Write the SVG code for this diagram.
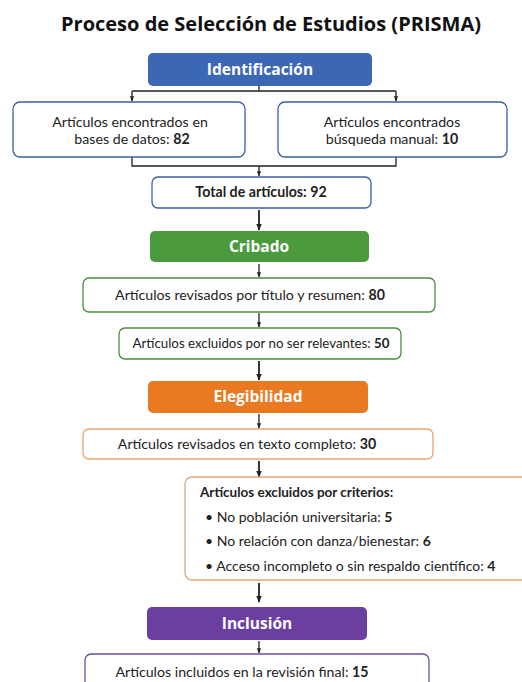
<svg xmlns="http://www.w3.org/2000/svg" width="522" height="682" viewBox="0 0 522 682">
<style>
.title{font-family:"Open Sans","Liberation Sans",sans-serif;font-weight:700;font-size:20px;fill:#111;text-anchor:middle}
.hdr{font-family:"Open Sans","Liberation Sans",sans-serif;font-weight:700;font-size:15.5px;fill:#fff;text-anchor:middle}
.t{font-family:Lato,"Liberation Sans",sans-serif;font-size:14.2px;fill:#222;text-anchor:middle}
.tl{font-family:Lato,"Liberation Sans",sans-serif;font-size:14px;fill:#222}
.b{font-weight:700}
.box{fill:#fff;stroke-width:1.3}
.blue{stroke:#3d5fa6}
.green{stroke:#4b8c3e}
.orange{stroke:#e9a46c}
.purple{stroke:#6c4f9e}
.ln{fill:none;stroke:#222;stroke-width:1.3}
.lnt{fill:none;stroke:#222;stroke-width:1.8}
</style>
<defs>
<marker id="ah" viewBox="0 0 10 10" refX="9" refY="5" markerWidth="4" markerHeight="4" orient="auto" markerUnits="strokeWidth">
<path d="M0,1 L10,5 L0,9 z" fill="#222"/>
</marker>
</defs>
<rect width="522" height="682" fill="#fff"/>
<text class="title" x="271" y="31">Proceso de Selección de Estudios (PRISMA)</text>

<g id="connectors">
<path class="ln" d="M259,86 V91 M132,91 H396"/>
<path class="ln" d="M132,91 V101" marker-end="url(#ah)"/>
<path class="ln" d="M396,91 V101" marker-end="url(#ah)"/>
<path class="ln" d="M132,157 V166 H396 V157"/>
<path class="ln" d="M259,166 V176" marker-end="url(#ah)"/>
<path class="lnt" d="M259,210 V230" marker-end="url(#ah)"/>
<path class="ln" d="M259,264 V277" marker-end="url(#ah)"/>
<path class="ln" d="M259,313 V327" marker-end="url(#ah)"/>
<path class="lnt" d="M259,361 V380" marker-end="url(#ah)"/>
<path class="ln" d="M259,414 V428" marker-end="url(#ah)"/>
<path class="lnt" d="M259,461 V477" marker-end="url(#ah)"/>
<path class="lnt" d="M259,583 V602" marker-end="url(#ah)"/>
<path class="ln" d="M259,641 V653" marker-end="url(#ah)"/>
</g>

<g id="identificacion">
<rect x="148" y="53" width="224" height="33" rx="5" fill="#3c67b5"/>
<text class="hdr" x="260" y="75">Identificación</text>
</g>
<g id="bases-datos">
<rect class="box blue" x="13" y="102" width="232" height="55" rx="7"/>
<text class="t" x="130" y="127">Artículos encontrados en</text>
<text class="t" x="132" y="144">bases de datos: <tspan class="b">82</tspan></text>
</g>
<g id="busqueda-manual">
<rect class="box blue" x="278" y="102" width="229" height="55" rx="7"/>
<text class="t" x="392" y="127">Artículos encontrados</text>
<text class="t" x="392" y="144">búsqueda manual: <tspan class="b">10</tspan></text>
</g>
<g id="total">
<rect class="box blue" x="152" y="177" width="219" height="31" rx="6"/>
<text class="t b" x="261" y="197">Total de artículos: 92</text>
</g>

<g id="cribado">
<rect x="150" y="231" width="219" height="31" rx="5" fill="#4b9a3e"/>
<text class="hdr" x="259" y="252">Cribado</text>
</g>
<g id="revisados-titulo">
<rect class="box green" x="83" y="278" width="352" height="34" rx="6"/>
<text class="t" x="250" y="300">Artículos revisados por título y resumen: <tspan class="b">80</tspan></text>
</g>
<g id="excluidos-relevantes">
<rect class="box green" x="119" y="328" width="282" height="31" rx="6"/>
<text class="t" x="261" y="348" style="font-size:13.3px">Artículos excluidos por no ser relevantes: <tspan class="b">50</tspan></text>
</g>

<g id="elegibilidad">
<rect x="148" y="381" width="220" height="32" rx="5" fill="#e97a22"/>
<text class="hdr" x="258" y="402">Elegibilidad</text>
</g>
<g id="texto-completo">
<rect class="box orange" x="83" y="429" width="350" height="30" rx="6"/>
<text class="t" x="247" y="449">Artículos revisados en texto completo: <tspan class="b">30</tspan></text>
</g>
<g id="excluidos-criterios">
<rect class="box orange" x="185" y="477" width="350" height="103" rx="7"/>
<text class="tl b" x="200" y="497" style="font-size:13.5px">Artículos excluidos por criterios:</text>
<text class="tl" x="205" y="522">• No población universitaria: <tspan class="b">5</tspan></text>
<text class="tl" x="205" y="546">• No relación con danza/bienestar: <tspan class="b">6</tspan></text>
<text class="tl" x="205" y="571">• Acceso incompleto o sin respaldo científico: <tspan class="b">4</tspan></text>
</g>

<g id="inclusion">
<rect x="147" y="607" width="220" height="33" rx="5" fill="#6a3fa0"/>
<text class="hdr" x="257" y="629">Inclusión</text>
</g>
<g id="incluidos-final">
<rect class="box purple" x="85" y="654" width="344" height="40" rx="6"/>
<text class="t" x="242" y="677">Artículos incluidos en la revisión final: <tspan class="b">15</tspan></text>
</g>
</svg>
